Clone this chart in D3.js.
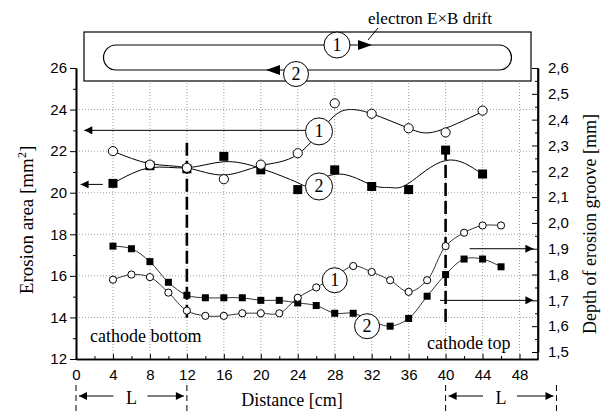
<!DOCTYPE html>
<html>
<head>
<meta charset="utf-8">
<script src="https://cdn.jsdelivr.net/npm/d3@7"></script>
<style>
  body { margin: 0; background: #fff; }
  svg { display: block; }
  .tick text { font-family: "Liberation Sans", Arial, sans-serif; font-size: 15px; }
  .serif { font-family: "Liberation Serif", "Times New Roman", serif; }
</style>
</head>
<body>
<svg width="613" height="413"></svg>
<script>
// upper curves: erosion area (left axis)
const dist = [4, 8, 12, 16, 20, 24, 28, 32, 36, 40, 44];
const area1 = [22.0, 21.35, 21.2, 20.65, 21.35, 21.9, 24.3, 23.8, 23.1, 22.9, 23.95];
const area2 = [20.45, 21.3, 21.15, 21.75, 21.1, 20.15, 21.1, 20.3, 20.15, 22.05, 20.9];

// fitted curves drawn through the upper points
const fit1 = [[4, 22.0], [8, 21.4], [12, 21.2], [16, 20.85], [20, 21.3], [24, 21.85], [27.5, 23.5], [29.6, 24.0], [32, 23.8], [36, 23.1], [39, 22.95], [44, 23.9]];
const fit2 = [[4, 20.45], [8, 21.2], [12, 21.2], [16, 21.49], [20, 21.17], [24, 20.48], [25.5, 20.4], [28.5, 20.9], [32, 20.37], [34, 20.25], [36, 20.45], [40, 21.55], [44, 20.88]];

// lower curves: depth of erosion groove (right axis)
const depthDist = [4, 6, 8, 10, 12, 14, 16, 18, 20, 22, 24, 26, 28, 30, 32, 34, 36, 38, 40, 42, 44, 46];
const depth1 = [1.78, 1.80, 1.79, 1.73, 1.66, 1.64, 1.64, 1.65, 1.65, 1.65, 1.71, 1.75, 1.79, 1.833, 1.81, 1.778, 1.733, 1.778, 1.91, 1.962, 1.99, 1.99];
const depth2 = [1.91, 1.90, 1.85, 1.77, 1.72, 1.71, 1.71, 1.71, 1.70, 1.70, 1.69, 1.68, 1.65, 1.65, 1.62, 1.60, 1.63, 1.716, 1.80, 1.86, 1.86, 1.83];

const xTicks = d3.range(0, 49, 4);
const leftTicks = d3.range(12, 27, 2);
const rightTicks = d3.range(15, 27).map(d => d / 10);

const svg = d3.select("svg");

const x = d3.scaleLinear().domain([0, 50]).range([76, 538]);
const yL = d3.scaleLinear().domain([12, 26]).range([359, 68]);
const yR = d3.scaleLinear().domain([1.5, 2.6]).range([352, 68]);

// grid
const grid = svg.append("g").attr("stroke", "#888").attr("stroke-width", 0.8).attr("stroke-dasharray", "1,2");
grid.selectAll(".gv").data(xTicks.filter(d => d > 0))
  .enter().append("line")
  .attr("x1", d => x(d)).attr("x2", d => x(d))
  .attr("y1", yL(26)).attr("y2", yL(12));
grid.selectAll(".gh").data(d3.range(14, 25, 2))
  .enter().append("line")
  .attr("x1", x(0)).attr("x2", x(50))
  .attr("y1", d => yL(d)).attr("y2", d => yL(d));

// cathode boundaries
const dashes = [[12, 22.4, 13.9], [40, 22.2, 13.7]];
svg.selectAll(".cb").data(dashes).enter().append("line")
  .attr("x1", d => x(d[0])).attr("x2", d => x(d[0]))
  .attr("y1", d => yL(d[1])).attr("y2", d => yL(d[2]))
  .attr("stroke", "#000").attr("stroke-width", 2.6).attr("stroke-dasharray", "13,5");

// lines
const fitLine = d3.line().x(d => x(d[0])).y(d => yL(d[1])).curve(d3.curveNatural);
svg.append("path").attr("d", fitLine(fit1)).attr("fill", "none").attr("stroke", "#000").attr("stroke-width", 1);
svg.append("path").attr("d", fitLine(fit2)).attr("fill", "none").attr("stroke", "#000").attr("stroke-width", 1);

const depthLine = d3.line().x((d, i) => x(depthDist[i])).y(d => yR(d)).curve(d3.curveCatmullRom);
svg.append("path").attr("d", depthLine(depth1)).attr("fill", "none").attr("stroke", "#000").attr("stroke-width", 0.8);
svg.append("path").attr("d", depthLine(depth2)).attr("fill", "none").attr("stroke", "#000").attr("stroke-width", 0.8);

// markers
function squares(vals, xv, y, s) {
  svg.append("g").selectAll("rect").data(vals).enter().append("rect")
    .attr("x", (d, i) => x(xv[i]) - s / 2).attr("y", d => y(d) - s / 2)
    .attr("width", s).attr("height", s).attr("fill", "#000");
}
function circles(vals, xv, y, r) {
  svg.append("g").selectAll("circle").data(vals).enter().append("circle")
    .attr("cx", (d, i) => x(xv[i])).attr("cy", d => y(d)).attr("r", r)
    .attr("fill", "#fff").attr("stroke", "#000").attr("stroke-width", 1);
}
squares(depth2, depthDist, yR, 7);
circles(depth1, depthDist, yR, 3.6);
squares(area2, dist, yL, 9);
circles(area1, dist, yL, 4.6);

// arrows
svg.append("defs").append("marker").attr("id", "ah")
  .attr("viewBox", "0 0 10 10").attr("refX", 10).attr("refY", 5)
  .attr("markerWidth", 10).attr("markerHeight", 8).attr("markerUnits", "userSpaceOnUse")
  .attr("orient", "auto")
  .append("path").attr("d", "M0,0L10,5L0,10Z").attr("fill", "#000");

const arrows = [
  [x(25), yL(23), x(0.9), yL(23)],
  [x(2.9), yL(20.4), x(0.5), yL(20.4)],
  [x(42.6), yR(1.9), x(49.5), yR(1.9)],
  [x(39.4), yR(1.7), x(49.5), yR(1.7)]
];
svg.selectAll(".arr").data(arrows).enter().append("line")
  .attr("x1", d => d[0]).attr("y1", d => d[1]).attr("x2", d => d[2]).attr("y2", d => d[3])
  .attr("stroke", "#000").attr("stroke-width", 1).attr("marker-end", "url(#ah)");

// numbered labels on curves
const labels = [
  [x(26.3), yL(22.95), 13.5, "1"],
  [x(26.3), yL(20.3), 13.5, "2"],
  [x(28), yR(1.778), 12.5, "1"],
  [x(31.5), yR(1.60), 12.5, "2"]
];
const lg = svg.selectAll(".lab").data(labels).enter().append("g");
lg.append("circle").attr("cx", d => d[0]).attr("cy", d => d[1]).attr("r", d => d[2])
  .attr("fill", "#fff").attr("stroke", "#000").attr("stroke-width", 1);
lg.append("text").attr("class", "serif").attr("x", d => d[0]).attr("y", d => d[1] + 6)
  .attr("text-anchor", "middle").attr("font-size", 18).text(d => d[3]);

// axes
const axL = d3.axisLeft(yL).tickValues(leftTicks).tickSize(6).tickPadding(3).tickSizeOuter(0);
const axLm = d3.axisLeft(yL).tickValues(d3.range(13, 26, 2)).tickSize(3).tickFormat("").tickSizeOuter(0);
svg.append("g").attr("transform", `translate(${x(0)},0)`).call(axLm);
svg.append("g").attr("transform", `translate(${x(0)},0)`).call(axL);

const fmtR = d => d3.format(".1f")(d).replace(".", ",");
const axR = d3.axisRight(yR).tickValues(rightTicks).tickSize(-6).tickPadding(10).tickFormat(fmtR).tickSizeOuter(0);
const axRm = d3.axisRight(yR).tickValues(d3.range(15, 26).map(d => d / 10 + 0.05)).tickSize(-3).tickFormat("").tickSizeOuter(0);
svg.append("g").attr("transform", `translate(${x(50)},0)`).call(axRm);
const gR = svg.append("g").attr("transform", `translate(${x(50)},0)`).call(axR);
gR.select(".domain").attr("d", `M0,${yL(26)}V${yL(12)}`);

const axB = d3.axisBottom(x).tickValues(xTicks).tickSize(-5).tickPadding(10).tickSizeOuter(0);
const axBm = d3.axisBottom(x).tickValues(d3.range(2, 50, 4)).tickSize(-3).tickFormat("").tickSizeOuter(0);
svg.append("g").attr("transform", `translate(0,${yL(12)})`).call(axBm);
svg.append("g").attr("transform", `translate(0,${yL(12)})`).call(axB);
svg.selectAll(".domain").attr("stroke-width", 1.6);

// top schematic box
const box = svg.append("g");
box.append("rect").attr("x", 84).attr("y", 32).attr("width", 447).attr("height", 49)
  .attr("fill", "#fff").attr("stroke", "#000").attr("stroke-width", 1.2);
box.append("path")
  .attr("d", "M116,45H499A12.5,12.5 0 0 1 499,70H116A12.5,12.5 0 0 1 116,45Z")
  .attr("fill", "none").attr("stroke", "#000").attr("stroke-width", 1.2);
box.append("circle").attr("cx", 337).attr("cy", 45).attr("r", 13).attr("fill", "#fff").attr("stroke", "#000");
box.append("text").attr("class", "serif").attr("x", 337).attr("y", 51).attr("text-anchor", "middle").attr("font-size", 18).text("1");
box.append("circle").attr("cx", 296).attr("cy", 74).attr("r", 12.5).attr("fill", "#fff").attr("stroke", "#000");
box.append("text").attr("class", "serif").attr("x", 296).attr("y", 80).attr("text-anchor", "middle").attr("font-size", 18).text("2");
box.append("path").attr("d", "M358,40L372,45L358,50Z").attr("fill", "#000");
box.append("path").attr("d", "M280,65L266,70L280,75Z").attr("fill", "#000");
svg.append("line").attr("x1", 378).attr("y1", 28).attr("x2", 368).attr("y2", 40).attr("stroke", "#000");
svg.append("text").attr("class", "serif").attr("x", 430).attr("y", 24).attr("text-anchor", "middle")
  .attr("font-size", 17).text("electron E×B drift");

// L brackets below the axis
const brackets = [[0, 12], [40, 52]];
brackets.forEach(([a, b]) => {
  const g = svg.append("g");
  [a, b].forEach(v => g.append("line").attr("x1", x(v)).attr("x2", x(v)).attr("y1", 385).attr("y2", 413)
    .attr("stroke", "#000").attr("stroke-width", 1).attr("stroke-dasharray", "6,4"));
  const mid = x((a + b) / 2);
  g.append("line").attr("x1", mid - 18).attr("x2", x(a) + 3).attr("y1", 396).attr("y2", 396)
    .attr("stroke", "#000").attr("stroke-width", 1.2).attr("marker-end", "url(#ah)");
  g.append("line").attr("x1", mid + 16).attr("x2", x(b) - 3).attr("y1", 396).attr("y2", 396)
    .attr("stroke", "#000").attr("stroke-width", 1.2).attr("marker-end", "url(#ah)");
  g.append("text").attr("class", "serif").attr("x", mid).attr("y", 404).attr("text-anchor", "middle")
    .attr("font-size", 18).text("L");
});

// titles
svg.append("text").attr("class", "serif").attr("x", 292).attr("y", 406).attr("text-anchor", "middle")
  .attr("font-size", 18).text("Distance [cm]");
svg.append("text").attr("class", "serif")
  .attr("transform", "translate(33,220) rotate(-90)").attr("text-anchor", "middle").attr("font-size", 19)
  .html('Erosion area [mm<tspan dy="-7" font-size="12">2</tspan><tspan dy="7">]</tspan>');
svg.append("text").attr("class", "serif")
  .attr("transform", "translate(596,224) rotate(-90)").attr("text-anchor", "middle").attr("font-size", 18)
  .text("Depth of erosion groove [mm]");
svg.append("text").attr("class", "serif").attr("x", 90).attr("y", 342).attr("font-size", 18).text("cathode bottom");
svg.append("text").attr("class", "serif").attr("x", 427).attr("y", 349).attr("font-size", 18).text("cathode top");
</script>
</body>
</html>
